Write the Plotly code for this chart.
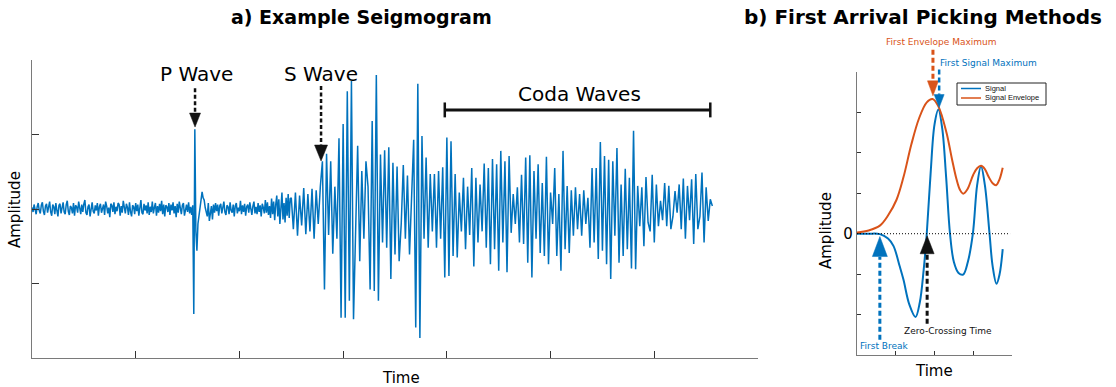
import numpy as np
import plotly.graph_objects as go

# ---------------- DATA ----------------
# a) seismogram amplitude segments, in hundredths; (values, sample interval)
pre_p_noise = [2, -4, 6, 1, -7, 3, 8, -2, -6, 5,
               9, -3, -8, 4, 7, -5, 2, 10, -4, -9,
               6, 3, -7, 8, -2, -10, 5, 7, -6, 1,
               9, -4, -7, 6, 11, -3, -8, 4, 2, -6,
               8, -9, 5, 3, -5, 10, -2, -7, 6, -4,
               7, 12, -5, -8, 3, 6, -10, 4, 9, -3,
               -6, 5, -2, 8, -9, 3, 7, -5, -1, 6,
               -8, 10, 4, -6, 2, -11, 7, 5, -4, 9,
               -7, 3, -3, 8, 6, -9, 4, -5, 11, -2,
               -6, 7, 2, -8, 9, -4, -10, 5, 3, -7,
               8, -3, 6, -9, 4, 12, -5, -7, 7, -2,
               5, -6, 9, -8, 3, -4, 10, -6, 2, 8,
               -9, 4, -5, 7, -3, 11, -7, 6, -10, 5,
               3, -4, 8, -8, 6, -2, 9, -6, 4, -11,
               7, -5, 10, -3, -7, 5, 8, -9, 2, 6,
               -4, 9, -6, 3, -8, 5]
p_arrival = [-141, 107, -30, -56, -20, -8, 5, 18, 23, 15,
             12, 2, -5, -10, 8, -16, -6, 4, -14, 6]
post_p_noise = [-5, 8, -3, 6, -9, 4, 7, -6, 2, 10,
                -4, -8, 5, 3, -7, 9, -2, -5, 6, -10,
                4, 8, -6, 2, -3, 11, -7, 5, -4, 7,
                -9, 3, 6, -5, 9, -2, -8, 4, 10, -6,
                3, -7, 8, -4, 5, -10, 7, 2, -6, 12,
                -5, 9, -8, 4, -12, 14, -7, 10, -15, 6,
                18, -10, 13, -20, 9, 22, -14, 8, -18,
                15, -9, 20, -12, 14]
pre_s = [15, -27, 22, -36, 18, -22, 28, -34, 20, -30, 27, -40, 25, -20]
s_wave = [30, 64, -108, 74, -35, 64, -60, 30, -40, 95,
          -146, 114, -146, 158, -123, 172, -148, -30, 85, -70,
          51, -40, 64, 30, -108, 118, -110, 180, -123, 73,
          -45, 79, -52, 83, -94, 62, -61, 57, -70, -20,
          59, -40, 45, -61, 30, 93, -159, 168, -173, 98,
          -40, 69, -52, 47, -30, 47, -52, 51, -40, 56,
          -92, 96, -90]
coda_early = [91, -63, 47, -65, 22, -30, 42, -54, 30, -35,
              55, -77, 42, -45, 33, -30, 61, -52, 55, -74,
              67, -54, 60, -83, 78, -45, 64, -85, 71, -32,
              20, -20, 29, -45, 46, -47, 69, -72, 72, -92,
              51, -40, 60, -59, 35, -63, 70, -74, 22, -20,
              55, -63, 20, -83, 78, -54, 31, -59, 25, -36,
              29]
coda_late = [-27, 20, -36, 25, -20, 15, -52, 55, -45, 55,
             -67, 90, -56, 71, -74, 66, -94, 64, -36, 82,
             -72, 33, -63, 54, -54, 42, -80, 105, -81, 31,
             -23, 29, -50, 43, -18, -30, 46, -45, 33, -23,
             11, -15, 35, -23, 31, -27, -10, 24, -5, 33,
             -27, 41, -40, 31, -15, 40, -47, 47, -27, -10,
             49, -45, 29, -16, 13, 4]
segments = [(pre_p_noise, 0.01), (p_arrival, 0.01), (post_p_noise, 0.01),
            (pre_s, 0.02), (s_wave, 0.02), (coda_early, 0.02), (coda_late, 0.02)]

# b) first-arrival picking example (time, amplitude)
sig_t = [0, 0.3, 0.59, 0.8, 0.94, 1.1, 1.2, 1.35, 1.51, 1.62, 1.72, 1.8, 1.9, 2.0, 2.1,
         2.2, 2.3, 2.4, 2.5, 2.62, 2.74, 2.86, 2.99, 3.1, 3.2, 3.3, 3.42, 3.5, 3.6, 3.68, 3.76]
sig_v = [0, 0, -0.01, -0.12, -0.3, -0.8, -1.14, -1.75, -2.06, -1.7, -0.9, 0, 1.5, 2.7, 3.07,
         2.6, 1.4, 0, -0.7, -0.97, -1.01, -0.7, 0, 1.2, 1.67, 1.2, 0, -0.8, -1.24, -1.0, -0.38]
env_t = [0, 0.3, 0.59, 0.8, 1.02, 1.2, 1.4, 1.6, 1.8, 1.95, 2.1, 2.31, 2.45, 2.57, 2.66,
         2.74, 2.85, 3.0, 3.1, 3.2, 3.3, 3.39, 3.5, 3.59, 3.68, 3.76]
env_v = [0.03, 0.08, 0.2, 0.45, 0.84, 1.4, 2.2, 2.85, 3.25, 3.33, 3.15, 2.5, 1.85, 1.34, 1.08,
         0.99, 1.1, 1.46, 1.62, 1.68, 1.6, 1.42, 1.25, 1.2, 1.35, 1.63]

panel_titles = ["a) Example Seigmogram", "b) First Arrival Picking Methods"]

# ---------------- LAYOUT GEOMETRY ----------------
W, H = 1116, 387
BLUE, ORANGE = "#0072BD", "#D95319"
FONT = "DejaVu Sans"
L = dict(x0=32, x1=758, yt=60, yb=358, xr=(0, 7), yr=(-2, 2))
R = dict(x0=857, x1=1012, yt=72, yb=355, xr=(0, 4), yr=(-3, 4))


def to_paper(P, t, a):
    px = P["x0"] + (t - P["xr"][0]) / (P["xr"][1] - P["xr"][0]) * (P["x1"] - P["x0"])
    py = P["yb"] - (a - P["yr"][0]) / (P["yr"][1] - P["yr"][0]) * (P["yb"] - P["yt"])
    return px / W, 1 - py / H


def pix(px, py):
    return px / W, 1 - py / H


seis_parts, time_parts, t_start = [], [], 0.0
for vals, dt in segments:
    seis_parts.append(np.array(vals) / 100.0)
    time_parts.append(t_start + np.arange(len(vals)) * dt)
    t_start += len(vals) * dt
seis = np.concatenate(seis_parts)
seis_t = np.concatenate(time_parts)

fig = go.Figure()
fig.add_trace(go.Scatter(x=seis_t, y=seis, mode="lines", line=dict(color=BLUE, width=1.5),
                         xaxis="x", yaxis="y", showlegend=False))
fig.add_trace(go.Scatter(x=sig_t, y=sig_v, mode="lines", line=dict(color=BLUE, width=2, shape="spline"),
                         xaxis="x2", yaxis="y2", name="Signal", showlegend=False))
fig.add_trace(go.Scatter(x=env_t, y=env_v, mode="lines", line=dict(color=ORANGE, width=2, shape="spline"),
                         xaxis="x2", yaxis="y2", name="Signal Envelope", showlegend=False))

shapes = []
annotations = []


def dashed(P, t, a0, a1, color, width, dash):
    x0, y0 = to_paper(P, t, a0)
    x1, y1 = to_paper(P, t, a1)
    shapes.append(dict(type="line", xref="paper", yref="paper", x0=x0, y0=y0, x1=x1, y1=y1,
                       line=dict(color=color, width=width, dash=dash)))


def head(P, t, a, w, h, color, up=False):
    x, y = to_paper(P, t, a)
    s = -1 if up else 1
    path = f"M {-w/2},{s*h} L {w/2},{s*h} L 0,0 Z"
    shapes.append(dict(type="path", xref="paper", yref="paper", xsizemode="pixel", ysizemode="pixel",
                       xanchor=x, yanchor=y, path=path, fillcolor=color, line=dict(color=color, width=0.5)))


def text(x, y, s, size, color="black", bold=False, family=FONT, xanchor="center", angle=0):
    annotations.append(dict(xref="paper", yref="paper", x=x, y=y, text=f"<b>{s}</b>" if bold else s,
                            showarrow=False, xanchor=xanchor, yanchor="middle", textangle=angle,
                            font=dict(family=family, size=size, color=color)))


# ---- left panel annotations ----
dashed(L, 1.572, 1.62, 1.10 + 0.17, "#111111", 2.5, "4px,2.5px")
head(L, 1.572, 1.10, 11, 14, "#111111")
dashed(L, 2.787, 1.65, 0.644 + 0.2, "#111111", 2.5, "4px,2.5px")
head(L, 2.787, 0.644, 13, 16, "#111111")
text(*to_paper(L, 1.59, 1.81), "P Wave", 20)
text(*to_paper(L, 2.787, 1.81), "S Wave", 20)
bx0, by = to_paper(L, 3.98, 1.33)
bx1, _ = to_paper(L, 6.54, 1.33)
shapes.append(dict(type="line", xref="paper", yref="paper", x0=bx0, x1=bx1, y0=by, y1=by,
                   line=dict(color="#111111", width=3)))
for t in (3.98, 6.54):
    xc, yl = to_paper(L, t, 1.23)
    _, yh = to_paper(L, t, 1.43)
    shapes.append(dict(type="line", xref="paper", yref="paper", x0=xc, x1=xc, y0=yl, y1=yh,
                       line=dict(color="#111111", width=2.5)))
text(*to_paper(L, 5.28, 1.54), "Coda Waves", 20)

# ---- right panel annotations ----
zx0, zy = to_paper(R, 0, 0)
zx1, _ = to_paper(R, 3.95, 0)
shapes.append(dict(type="line", xref="paper", yref="paper", x0=zx0, x1=zx1, y0=zy, y1=zy,
                   line=dict(color="black", width=1, dash="1px,2px")))
dashed(R, 1.96, 4.55, 3.41 + 0.37, ORANGE, 3, "5px,3px")
head(R, 1.96, 3.41, 11, 15, ORANGE)
dashed(R, 2.12, 4.06, 3.12 + 0.32, BLUE, 2.5, "5px,3px")
head(R, 2.12, 3.12, 10, 13, BLUE)
dashed(R, 0.59, -2.62, -0.07 - 0.5, BLUE, 3, "5px,3px")
head(R, 0.59, -0.07, 15, 20, BLUE, up=True)
dashed(R, 1.81, -2.23, -0.05 - 0.45, "#111111", 3, "5px,3px")
head(R, 1.81, -0.05, 14, 18, "#111111", up=True)
text(*to_paper(R, 2.17, 4.75), "First Envelope Maximum", 9, ORANGE)
text(*to_paper(R, 2.09, 4.23), "First Signal Maximum", 9, BLUE, xanchor="left")
text(*to_paper(R, 0.71, -2.77), "First Break", 9, BLUE)
text(*to_paper(R, 2.35, -2.40), "Zero-Crossing Time", 9, "#111111")

# manual legend
lx0, ly0 = pix(957, 83)
lx1, ly1 = pix(1046, 105)
shapes.append(dict(type="rect", xref="paper", yref="paper", x0=lx0, x1=lx1, y0=ly1, y1=ly0,
                   line=dict(color="#222222", width=1), fillcolor="white"))
for (yy, col, lab) in ((88.5, BLUE, "Signal"), (98, ORANGE, "Signal Envelope")):
    a0, b0 = pix(961, yy)
    a1, _ = pix(981, yy)
    shapes.append(dict(type="line", xref="paper", yref="paper", x0=a0, x1=a1, y0=b0, y1=b0,
                       line=dict(color=col, width=1.5)))
    tx, ty = pix(983, yy)
    text(tx, ty, lab, 7.5, "#111111", family="Liberation Sans", xanchor="left")

# titles and axis titles
text(*pix(361, 17), panel_titles[0], 19, bold=True)
text(*pix(923, 17), panel_titles[1], 20, bold=True)
text(*pix(401, 378), "Time", 15)
text(*pix(15, 210), "Amplitude", 15, angle=-90)
text(*pix(934, 371), "Time", 15)
text(*pix(826, 231), "Amplitude", 15, angle=-90)

axis_common = dict(showgrid=False, zeroline=False, showline=True, linecolor="#7a7a7a", linewidth=1.2,
                   ticks="inside", tickcolor="#333333", tickwidth=1, fixedrange=True)

fig.update_layout(
    width=W, height=H, margin=dict(l=0, r=0, t=0, b=0),
    paper_bgcolor="white", plot_bgcolor="white", showlegend=False,
    xaxis=dict(domain=[L["x0"] / W, L["x1"] / W], range=list(L["xr"]), tickvals=list(range(0, 8)),
               showticklabels=False, ticklen=7, anchor="y", **axis_common),
    yaxis=dict(domain=[1 - L["yb"] / H, 1 - L["yt"] / H], range=list(L["yr"]), tickvals=list(range(-2, 3)),
               showticklabels=False, ticklen=7, anchor="x", **axis_common),
    xaxis2=dict(domain=[R["x0"] / W, R["x1"] / W], range=list(R["xr"]), tickvals=list(range(0, 5)),
                showticklabels=False, ticklen=4, anchor="y2", **axis_common),
    yaxis2=dict(domain=[1 - R["yb"] / H, 1 - R["yt"] / H], range=list(R["yr"]), tickvals=list(range(-3, 5)),
                ticktext=["", "", "", "0", "", "", "", ""], ticklen=4, anchor="x2",
                tickfont=dict(family=FONT, size=15, color="black"), **axis_common),
    shapes=shapes, annotations=annotations,
)

fig.write_html("out.html", config={"displayModeBar": False},
               post_script="document.body.style.margin='0';document.body.style.overflow='hidden';")
